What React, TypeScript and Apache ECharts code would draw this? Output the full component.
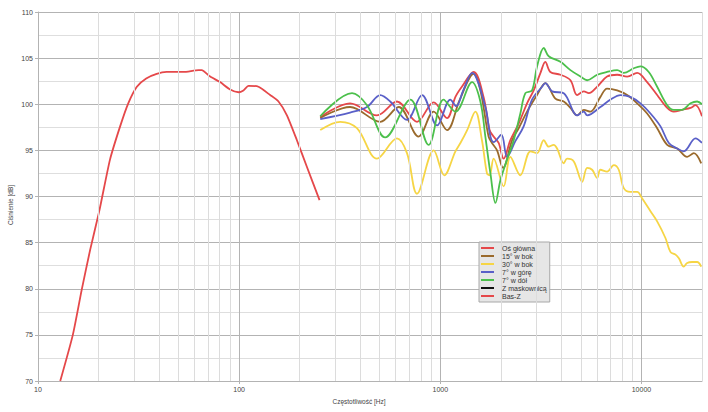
import React, { useEffect, useRef } from "react";
import * as echarts from "echarts";

const FONT = "'Liberation Sans', 'DejaVu Sans', Arial, sans-serif";

// Bas-Z (near-field bass)
const bassFreq = [12.9, 14.9, 16.5, 18.2, 20.2, 22.8, 25.6, 28.1, 31, 34.5, 38.9, 43.6, 52.8, 62.8, 65.1, 71.8, 80.4, 90.2, 99.3, 105, 111.3, 124.8, 142.6, 156.9, 172.8, 193.7, 217.3, 251];
const bassDb = [70, 75, 79.9, 84.3, 88.5, 94.0, 97.6, 100.1, 101.9, 102.8, 103.3, 103.5, 103.5, 103.7, 103.7, 103.0, 102.4, 101.6, 101.3, 101.5, 102.0, 101.9, 101.0, 100.3, 98.8, 96.1, 93.2, 89.6];

// Oś główna
const mainFreq = [253, 356, 484, 609, 766, 927, 1080, 1189, 1280, 1466, 1641, 1758, 1841, 1950, 2065, 2230, 2453, 2699, 2913, 3148, 3327, 3524, 3954, 4436, 4790, 5169, 5474, 6024, 6746, 7575, 8490, 9520, 10670, 11970, 13430, 14480, 15930, 17540, 18560, 20000];
const mainDb = [98.6, 100.1, 98.8, 100.3, 98.1, 100.2, 98.5, 100.8, 101.9, 103.5, 100.8, 97.2, 96.5, 95.8, 94.1, 96.1, 97.9, 100.1, 101.5, 103.4, 104.6, 103.5, 103.2, 102.6, 101.0, 101.4, 101.2, 101.9, 103.0, 103.2, 103.0, 103.4, 102.4, 101.0, 99.6, 99.2, 99.4, 99.6, 99.9, 98.7];

// 15° w bok
const side15Freq = [253, 356, 503, 621, 780, 927, 1080, 1250, 1466, 1582, 1738, 1807, 1915, 2051, 2275, 2453, 2699, 3027, 3327, 3733, 4108, 4436, 4790, 5169, 5572, 6252, 6746, 7575, 8490, 9520, 10670, 11970, 13430, 15060, 16880, 18210, 19820];
const side15Db = [98.5, 99.7, 98.1, 99.7, 96.5, 99.2, 97.2, 100.5, 103.3, 101.5, 96.5, 95.8, 95.0, 93.1, 96.1, 97.4, 99.2, 101.0, 102.3, 100.6, 100.3, 99.6, 98.8, 99.4, 99.2, 100.8, 101.7, 101.5, 101.0, 100.1, 99.0, 97.4, 95.6, 95.2, 94.3, 94.7, 93.6];

// 30° w bok
const side30Freq = [253, 318, 385, 484, 609, 683, 766, 927, 1047, 1189, 1259, 1360, 1494, 1611, 1707, 1758, 1841, 2065, 2230, 2500, 2806, 3027, 3268, 3459, 3661, 3808, 4108, 4270, 4610, 5072, 5374, 5685, 6024, 6252, 6746, 7291, 7713, 8170, 8810, 9520, 10070, 11090, 11970, 13160, 13930, 14770, 15350, 16230, 16880, 17870, 18920, 19820];
const side30Db = [97.2, 98.1, 97.4, 94.1, 96.3, 94.7, 90.3, 95.0, 92.3, 94.9, 95.8, 97.2, 99.2, 96.1, 92.5, 92.3, 94.1, 91.1, 94.3, 92.3, 94.9, 94.7, 96.1, 95.4, 95.6, 95.2, 93.6, 94.1, 93.8, 91.6, 93.1, 92.9, 92.0, 92.9, 92.7, 93.4, 92.9, 90.9, 90.5, 90.5, 89.8, 88.4, 87.3, 85.5, 84.0, 83.7, 83.3, 82.4, 82.8, 82.9, 82.9, 82.4];

// 7° w górę
const upFreq = [253, 356, 432, 503, 564, 683, 811, 964, 1122, 1200, 1300, 1439, 1675, 1775, 1841, 2011, 2147, 2361, 2596, 2858, 3207, 3327, 3594, 4108, 4790, 5169, 5374, 6252, 7015, 7871, 8810, 9886, 11090, 12440, 13680, 15060, 16230, 18560, 20000];
const upDb = [98.4, 99.1, 99.7, 101.0, 100.3, 98.3, 101.0, 97.7, 100.5, 99.8, 101.5, 103.4, 99.7, 96.5, 95.9, 96.7, 94.3, 96.0, 97.6, 100.5, 101.9, 102.3, 101.4, 101.2, 98.8, 99.2, 98.8, 99.7, 100.5, 101.0, 100.8, 100.1, 99.0, 97.6, 95.8, 95.2, 94.9, 96.3, 95.8];

// 7° w dół
const downFreq = [253, 364, 432, 532, 710, 875, 1038, 1189, 1439, 1582, 1675, 1775, 1880, 1991, 2147, 2317, 2500, 2649, 2858, 3027, 3268, 3459, 3954, 4436, 4977, 5374, 6024, 6746, 7575, 8170, 9160, 9886, 10870, 11970, 13430, 14480, 15930, 17540, 18920, 20000];
const downDb = [98.7, 101.2, 99.9, 96.4, 100.5, 95.6, 100.5, 99.2, 102.4, 100.3, 96.5, 92.5, 89.3, 91.8, 94.0, 96.1, 99.0, 101.2, 101.5, 104.1, 106.1, 105.2, 104.6, 103.7, 103.0, 102.6, 103.2, 103.5, 103.7, 103.4, 103.9, 104.1, 103.5, 101.9, 99.9, 99.4, 99.4, 100.1, 100.3, 100.0];

// Z maskownicą (not visible in the picture)
const grilleFreq: number[] = [];
const grilleDb: number[] = [];

const legendNames = ["Oś główna", "15° w bok", "30° w bok", "7° w górę", "7° w dół", "Z maskownicą", "Bas-Z"];
const minorFreqs = [20, 30, 40, 50, 60, 70, 80, 90, 200, 300, 400, 500, 600, 700, 800, 900, 2000, 3000, 4000, 5000, 6000, 7000, 8000, 9000, 20000];

const RED = "#e5484a";
const BROWN = "#9a6a2c";
const YELLOW = "#f6d545";
const BLUE = "#5a60c8";
const GREEN = "#4cc04c";
const BLACK = "#111111";

function pairs(f: number[], d: number[]) {
  return f.map((x, i) => [x, d[i]]);
}

function lineSeries(name: string, f: number[], d: number[], color: string, smooth: number) {
  return {
    name,
    type: "line",
    data: pairs(f, d),
    smooth,
    showSymbol: false,
    symbol: "none",
    lineStyle: { color, width: 1.8 },
    itemStyle: { color },
    emphasis: { disabled: true },
    z: 3,
  };
}

export default function App() {
  const ref = useRef<HTMLDivElement>(null);
  useEffect(() => {
    const chart = echarts.init(ref.current!, null, { renderer: "svg" });
    chart.setOption({
      animation: false,
      textStyle: { fontFamily: FONT },
      grid: { left: 38, right: 6, top: 12, bottom: 31 },
      legend: {
        data: legendNames.map((n) => ({ name: n, icon: "rect" })),
        orient: "vertical",
        left: 479,
        top: 242,
        padding: [2, 3, 2, 2],
        itemGap: 0,
        itemWidth: 13,
        itemHeight: 2,
        itemStyle: { borderWidth: 0 },
        lineStyle: { width: 0 },
        backgroundColor: "#e6e6e6",
        borderColor: "#a8a8a8",
        borderWidth: 1,
        borderRadius: 0,
        selectedMode: false,
        textStyle: { fontSize: 7, color: "#333", fontFamily: FONT, lineHeight: 8, padding: [0, 0, 0, 3] },
      },
      xAxis: {
        type: "log",
        logBase: 10,
        min: 10,
        max: 20000,
        axisLine: { show: true, lineStyle: { color: "#b3b3b3" } },
        axisTick: { show: true, length: 3, lineStyle: { color: "#b3b3b3" } },
        axisLabel: {
          fontSize: 7,
          color: "#444",
          margin: 5,
          fontFamily: FONT,
          showMaxLabel: false,
          formatter: (v: number) => {
            const l = Math.log10(v);
            return Math.abs(l - Math.round(l)) < 1e-6 ? String(Math.round(v)) : "";
          },
        },
        splitLine: { show: true, lineStyle: { color: "#b3b3b3", width: 1 } },
      },
      yAxis: {
        type: "value",
        min: 70,
        max: 110,
        interval: 5,
        axisLine: { show: true, lineStyle: { color: "#b3b3b3" } },
        axisTick: { show: true, length: 3, lineStyle: { color: "#b3b3b3" } },
        axisLabel: { fontSize: 7, color: "#444", margin: 5, fontFamily: FONT },
        splitLine: { show: true, lineStyle: { color: "#b3b3b3", width: 1 } },
        minorTick: { show: false, splitNumber: 2 },
        minorSplitLine: { show: true, lineStyle: { color: "#dedede", width: 1 } },
      },
      graphic: [
        {
          type: "text",
          x: 359,
          y: 401,
          style: { text: "Częstotliwość [Hz]", fontSize: 6.5, fill: "#444", font: `6.5px ${FONT}`, align: "center", verticalAlign: "middle" },
        },
        {
          type: "text",
          x: 10,
          y: 205,
          rotation: Math.PI / 2,
          style: { text: "Ciśnienie [dB]", fontSize: 6.5, fill: "#444", font: `6.5px ${FONT}`, align: "center", verticalAlign: "middle" },
        },
      ],
      series: [
        {
          name: "grid-minor",
          type: "line",
          data: [],
          silent: true,
          z: 1,
          markLine: {
            silent: true,
            symbol: ["none", "none"],
            label: { show: false },
            emphasis: { disabled: true },
            lineStyle: { color: "#dcdcdc", width: 1, type: "solid" },
            data: minorFreqs.map((v) => ({ xAxis: v })),
          },
        },
        lineSeries("Oś główna", mainFreq, mainDb, RED, 0.35),
        lineSeries("15° w bok", side15Freq, side15Db, BROWN, 0.35),
        lineSeries("30° w bok", side30Freq, side30Db, YELLOW, 0.35),
        lineSeries("7° w górę", upFreq, upDb, BLUE, 0.35),
        lineSeries("7° w dół", downFreq, downDb, GREEN, 0.35),
        lineSeries("Z maskownicą", grilleFreq, grilleDb, BLACK, 0.35),
        lineSeries("Bas-Z", bassFreq, bassDb, RED, 0.2),
      ],
    });
    return () => chart.dispose();
  }, []);
  return <div ref={ref} style={{ position: "absolute", left: 0, top: 0, width: 708, height: 412 }} />;
}
